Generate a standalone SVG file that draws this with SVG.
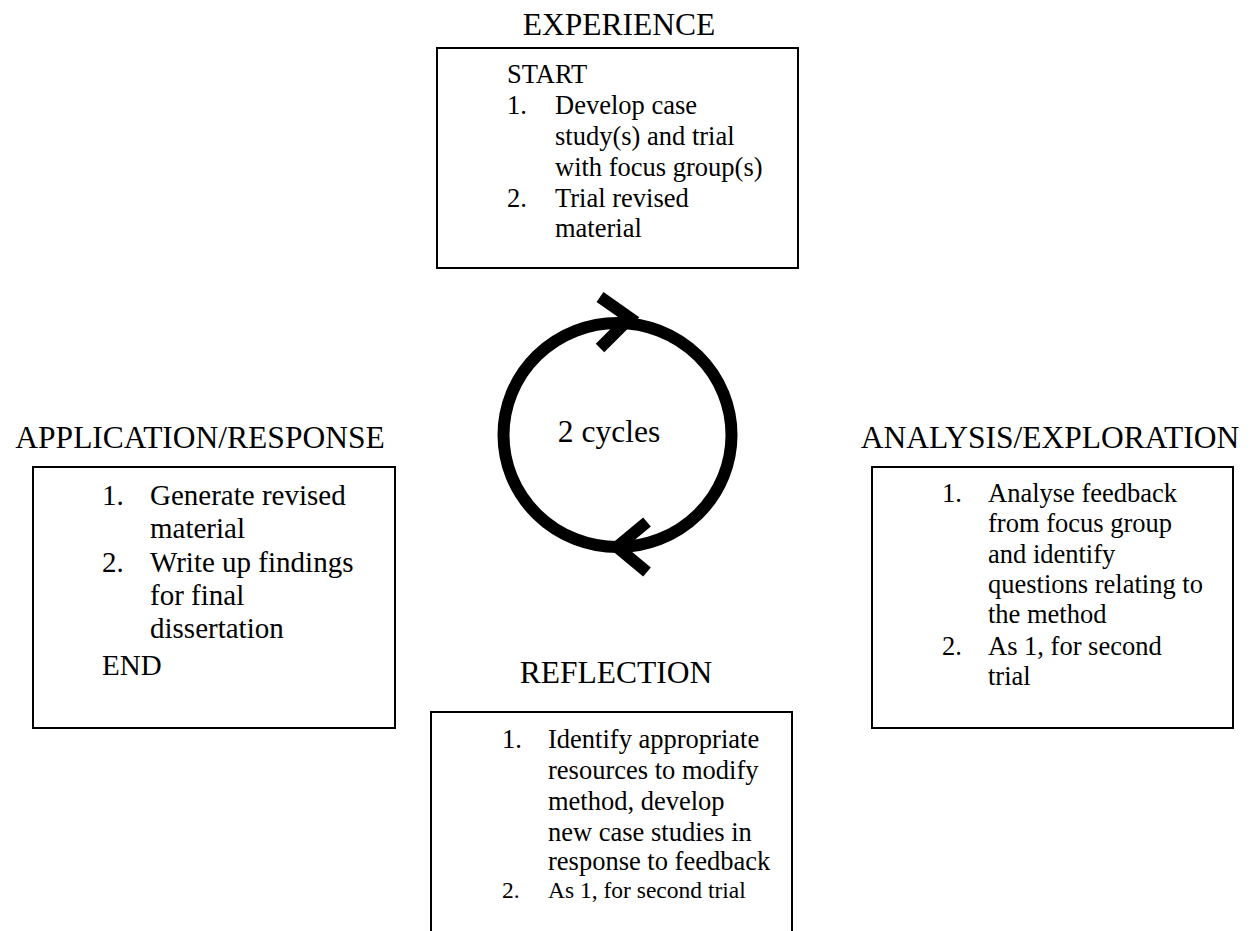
<svg xmlns="http://www.w3.org/2000/svg" width="1253" height="931" viewBox="0 0 1253 931">
<style>
text{font-family:"Liberation Serif","Times New Roman",serif;fill:#000}
.t{font-size:31.5px;text-anchor:middle}
.b{font-size:26.5px}
.l{font-size:29px}
.s{font-size:23.5px}
.box{fill:#fff;stroke:#000;stroke-width:2}
.cyc{fill:none;stroke:#000;stroke-width:12}
</style>
<rect width="1253" height="931" fill="#fff"/>
<g id="experience">
<text class="t" x="619" y="35">EXPERIENCE</text>
<rect class="box" x="437" y="48" width="361" height="220"/>
<text class="b" x="507" y="83">START</text>
<text class="b" x="507" y="114">1.</text>
<text class="b" x="555" y="114">Develop case</text>
<text class="b" x="555" y="145">study(s) and trial</text>
<text class="b" x="555" y="176">with focus group(s)</text>
<text class="b" x="507" y="207">2.</text>
<text class="b" x="555" y="207">Trial revised</text>
<text class="b" x="555" y="237">material</text>
</g>
<g id="application">
<text class="t" x="200" y="448">APPLICATION/RESPONSE</text>
<rect class="box" x="33" y="467" width="362" height="261"/>
<text class="l" x="102" y="505">1.</text>
<text class="l" x="150" y="505">Generate revised</text>
<text class="l" x="150" y="538">material</text>
<text class="l" x="102" y="572">2.</text>
<text class="l" x="150" y="572">Write up findings</text>
<text class="l" x="150" y="605">for final</text>
<text class="l" x="150" y="638">dissertation</text>
<text class="l" x="102" y="675">END</text>
</g>
<g id="analysis">
<text class="t" x="1050" y="448">ANALYSIS/EXPLORATION</text>
<rect class="box" x="872" y="467" width="361" height="261"/>
<text class="b" x="942" y="502">1.</text>
<text class="b" x="988" y="502">Analyse feedback</text>
<text class="b" x="988" y="532">from focus group</text>
<text class="b" x="988" y="563">and identify</text>
<text class="b" x="988" y="593">questions relating to</text>
<text class="b" x="988" y="623">the method</text>
<text class="b" x="942" y="655">2.</text>
<text class="b" x="988" y="655">As 1, for second</text>
<text class="b" x="988" y="685">trial</text>
</g>
<g id="reflection">
<text class="t" x="616" y="683">REFLECTION</text>
<rect class="box" x="431" y="712" width="361" height="240"/>
<text class="b" x="502" y="748">1.</text>
<text class="b" x="548" y="748">Identify appropriate</text>
<text class="b" x="548" y="779">resources to modify</text>
<text class="b" x="548" y="810">method, develop</text>
<text class="b" x="548" y="841">new case studies in</text>
<text class="b" x="548" y="870">response to feedback</text>
<text class="s" x="502" y="898">2.</text>
<text class="s" x="548" y="898">As 1, for second trial</text>
</g>
<g id="cycle">
<ellipse class="cyc" cx="617.5" cy="435" rx="114" ry="112"/>
<text x="609" y="442" style="font-size:31.5px;text-anchor:middle">2 cycles</text>
</g>
<g id="connectors">
<polyline class="cyc" points="600,297 630,318 600,348" stroke-linejoin="miter"/>
<polyline class="cyc" points="647,522 617,547 647,572" stroke-linejoin="miter"/>
</g>
</svg>
